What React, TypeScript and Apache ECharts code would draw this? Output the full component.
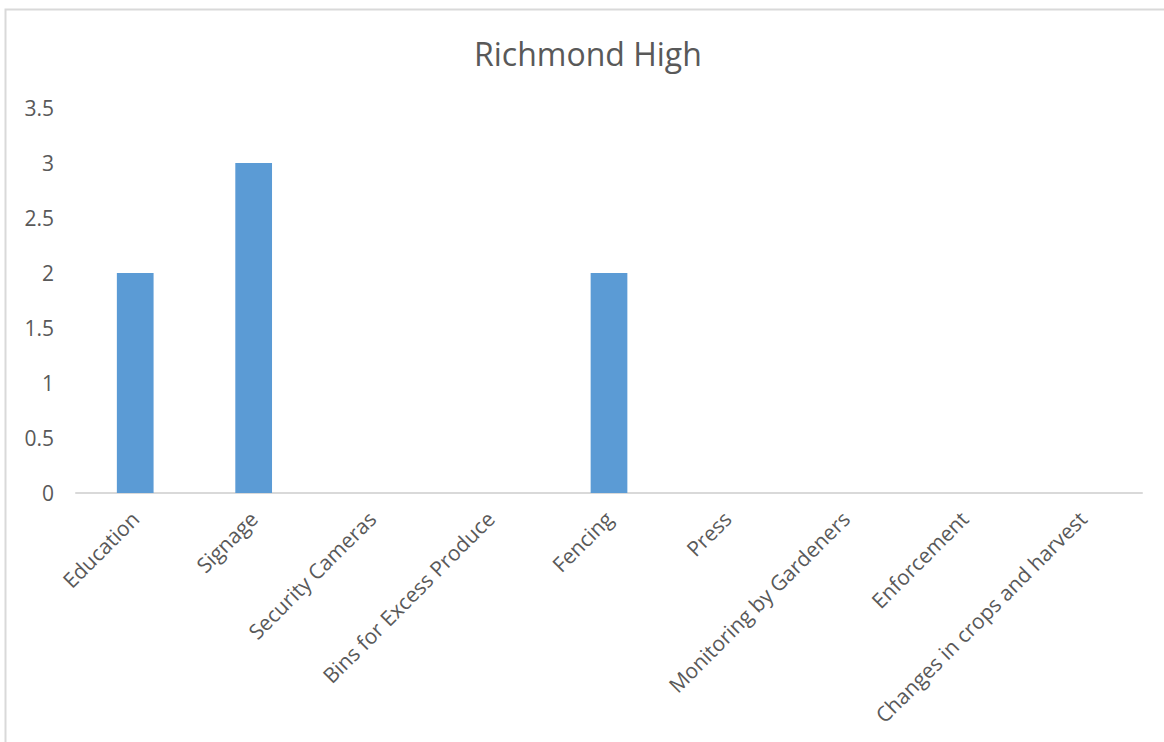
import React, { useEffect, useRef } from "react";
import * as echarts from "echarts";

const categories = [
  "Education",
  "Signage",
  "Security Cameras",
  "Bins for Excess Produce",
  "Fencing",
  "Press",
  "Monitoring by Gardeners",
  "Enforcement",
  "Changes in crops and harvest",
];
const values = [2, 3, 0, 0, 2, 0, 0, 0, 0];
const titleText = "Richmond High";

export default function App() {
  const ref = useRef<HTMLDivElement>(null);
  useEffect(() => {
    if (!ref.current) return;
    const chart = echarts.init(ref.current, undefined, { renderer: "svg" });
    const font = "'Open Sans', sans-serif";
    chart.setOption({
      animation: false,
      backgroundColor: "#ffffff",
      title: {
        text: titleText,
        left: 469,
        top: 32,
        textStyle: { fontFamily: font, fontSize: 32, fontWeight: "normal", color: "#595959" },
      },
      graphic: [
        {
          type: "rect",
          shape: { x: 5.5, y: 9.5, width: 1300, height: 900 },
          style: { fill: "none", stroke: "#d9d9d9", lineWidth: 2 },
          silent: true,
        },
      ],
      grid: { left: 76, right: 22, top: 108, bottom: 249, containLabel: false },
      xAxis: {
        type: "category",
        data: categories,
        axisLine: { lineStyle: { color: "#d9d9d9", width: 2 } },
        axisTick: { show: false },
        axisLabel: {
          rotate: 45,
          interval: 0,
          margin: 22,
          fontFamily: font,
          fontSize: 21,
          color: "#595959",
        },
      },
      yAxis: {
        type: "value",
        min: 0,
        max: 3.5,
        interval: 0.5,
        splitLine: { show: false },
        axisLine: { show: false },
        axisTick: { show: false },
        axisLabel: { fontFamily: font, fontSize: 21, color: "#595959", margin: 22 },
      },
      series: [
        {
          type: "bar",
          data: values,
          barWidth: "31%",
          itemStyle: { color: "#5b9bd5" },
        },
      ],
    });
    return () => chart.dispose();
  }, []);
  return (
    <div
      ref={ref}
      style={{ position: "fixed", left: 0, top: 0, width: 1164, height: 742 }}
    />
  );
}
